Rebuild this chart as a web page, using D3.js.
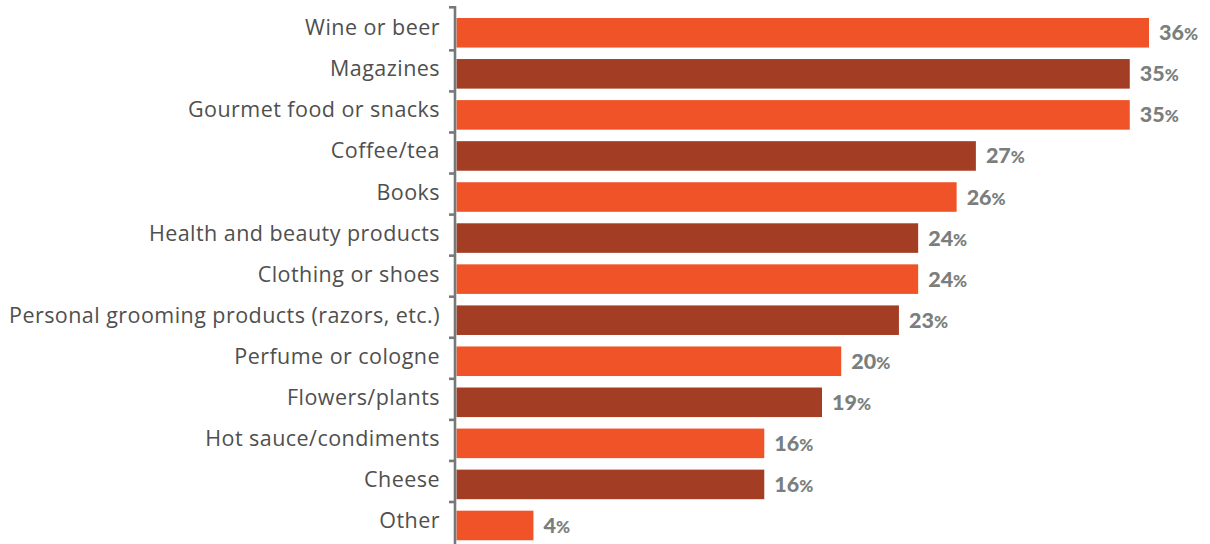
<!DOCTYPE html>
<html>
<head>
<meta charset="utf-8">
<script src="https://cdn.jsdelivr.net/npm/d3@7"></script>
<style>
  html, body { margin: 0; padding: 0; background: #ffffff; }
  svg { display: block; }
</style>
</head>
<body>
<svg id="chart" width="1210" height="544"></svg>
<script>
// Share of respondents by gift category (percent)
const categories = [
  "Wine or beer",
  "Magazines",
  "Gourmet food or snacks",
  "Coffee/tea",
  "Books",
  "Health and beauty products",
  "Clothing or shoes",
  "Personal grooming products (razors, etc.)",
  "Perfume or cologne",
  "Flowers/plants",
  "Hot sauce/condiments",
  "Cheese",
  "Other"
];
const values = [36, 35, 35, 27, 26, 24, 24, 23, 20, 19, 16, 16, 4];
const barColors = ["#f05327", "#a33d23"];

const svg = d3.select("#chart");
const axisX = 455;

const x = d3.scaleLinear().domain([0, 36]).range([axisX + 1.5, 1149]);
const y = d3.scaleBand()
  .domain(categories)
  .range([12.25, 546])
  .paddingInner(0.28)
  .paddingOuter(0.14);

const data = categories.map((c, i) => ({ cat: c, val: values[i], i }));

// bars, alternating light and dark orange
svg.append("g").selectAll("rect")
  .data(data)
  .join("rect")
  .attr("x", x(0))
  .attr("y", d => y(d.cat))
  .attr("width", d => x(d.val) - x(0))
  .attr("height", y.bandwidth())
  .attr("fill", d => barColors[d.i % 2]);

// vertical axis with ticks between categories
const axis = svg.append("g").attr("stroke", "#76797a").attr("stroke-width", 2.6);
axis.append("line")
  .attr("x1", axisX).attr("x2", axisX)
  .attr("y1", 6).attr("y2", 544);
axis.selectAll("line.tick")
  .data(categories)
  .join("line")
  .attr("class", "tick")
  .attr("x1", axisX - 6).attr("x2", axisX + 1)
  .attr("y1", (d, i) => i === 0 ? 7.3 : y(d) - 8.7)
  .attr("y2", (d, i) => i === 0 ? 7.3 : y(d) - 8.7);

// category labels
svg.append("g").selectAll("text")
  .data(data)
  .join("text")
  .attr("x", 440)
  .attr("y", d => y(d.cat) + y.bandwidth() / 2 + 2.5)
  .attr("text-anchor", "end")
  .attr("font-family", "'Open Sans', sans-serif")
  .attr("font-size", 21.5)
  .attr("letter-spacing", 0.45)
  .attr("fill", "#4f4f4f")
  .text(d => d.cat);

// value labels
const vl = svg.append("g").selectAll("text")
  .data(data)
  .join("text")
  .attr("x", d => x(d.val) + 10)
  .attr("y", d => y(d.cat) + y.bandwidth() / 2 + 7.5)
  .attr("font-family", "Lato, sans-serif")
  .attr("font-weight", 900)
  .attr("font-size", 21.5)
  .attr("fill", "#7a7e7d");
vl.append("tspan").text(d => d.val);
vl.append("tspan").attr("font-size", 17).text("%");
</script>
</body>
</html>
